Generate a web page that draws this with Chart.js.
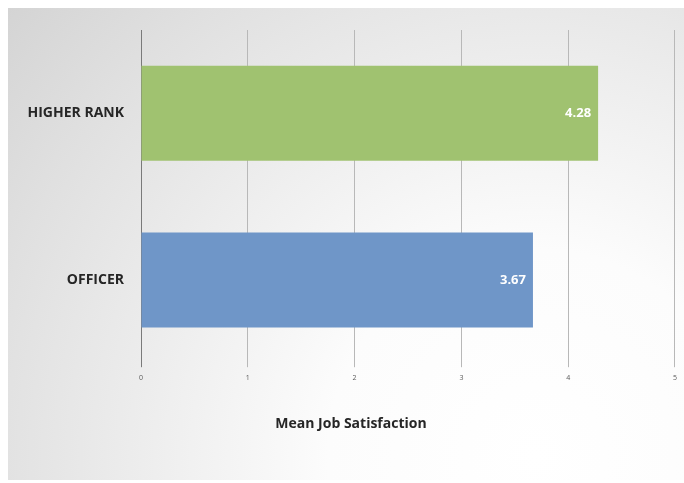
<!DOCTYPE html>
<html>
<head>
<meta charset="utf-8">
<script src="https://cdn.jsdelivr.net/npm/chart.js@4/dist/chart.umd.min.js"></script>
<style>
  html, body { margin: 0; padding: 0; background: #ffffff; }
  #wrap { position: relative; width: 684px; height: 483px; overflow: hidden; }
  /* grey panel behind the chart, fading to white towards bottom-right */
  #panel {
    position: absolute; left: 8px; top: 8px; width: 676px; height: 472px;
    background: radial-gradient(circle at 78% 95%, #ffffff 0%, #fcfcfc 30%, #eeeeee 55%, #e0e0e0 80%, #d4d4d4 100%);
  }
  #chart { position: absolute; left: 0; top: 0; }
</style>
</head>
<body>
<div id="wrap">
  <div id="panel"></div>
  <canvas id="chart" width="684" height="483"></canvas>
</div>
<script>
// 資料
const categories = ['HIGHER RANK', 'OFFICER'];
const meanScores = [4.28, 3.67];
const barColors = ['#a0c270', '#6f96c8'];
const axisMin = 0;
const axisMax = 5;
const axisTitle = 'Mean Job Satisfaction';

const FONT = '"Open Sans", "DejaVu Sans", sans-serif';

// 在長條末端內側寫上數值
const valueLabels = {
    id: 'valueLabels',
    afterDatasetsDraw(chart) {
        const ctx = chart.ctx;
        const meta = chart.getDatasetMeta(0);
        ctx.save();
        ctx.fillStyle = '#ffffff';
        ctx.font = 'bold 13px ' + FONT;
        ctx.textAlign = 'right';
        ctx.textBaseline = 'middle';
        meta.data.forEach((bar, i) => {
            ctx.fillText(meanScores[i].toFixed(2), bar.x - 7, bar.y);
        });
        ctx.restore();
    }
};

new Chart(document.getElementById('chart'), {
    type: 'bar',
    data: {
        labels: categories,
        datasets: [{
            data: meanScores,
            backgroundColor: barColors,
            borderWidth: 0,
            categoryPercentage: 1,
            barPercentage: 0.57
        }]
    },
    options: {
        indexAxis: 'y',
        responsive: false,
        animation: false,
        layout: { padding: { left: 24, right: 6, top: 30, bottom: 51 } },
        plugins: {
            legend: { display: false },
            tooltip: { enabled: false },
            title: {
                display: true,
                position: 'bottom',
                text: axisTitle,
                color: '#262626',
                font: { family: FONT, size: 14, weight: 'bold' },
                padding: 0
            }
        },
        scales: {
            x: {
                min: axisMin,
                max: axisMax,
                ticks: {
                    stepSize: 1,
                    color: '#595959',
                    font: { family: FONT, size: 7 },
                    padding: 7
                },
                grid: {
                    color: ctx => (ctx.tick && ctx.tick.value === 0) ? '#7a7a7a' : '#b8b8b8',
                    lineWidth: 1,
                    tickLength: 4
                },
                border: { display: false },
                afterFit(scale) { scale.height = 52; }
            },
            y: {
                ticks: {
                    color: '#262626',
                    font: { family: FONT, size: 14, weight: 'bold' },
                    padding: 9
                },
                grid: { display: false },
                border: { display: true, color: '#7a7a7a' },
                afterFit(scale) { scale.width = 117; }
            }
        }
    },
    plugins: [valueLabels]
});
</script>
</body>
</html>
